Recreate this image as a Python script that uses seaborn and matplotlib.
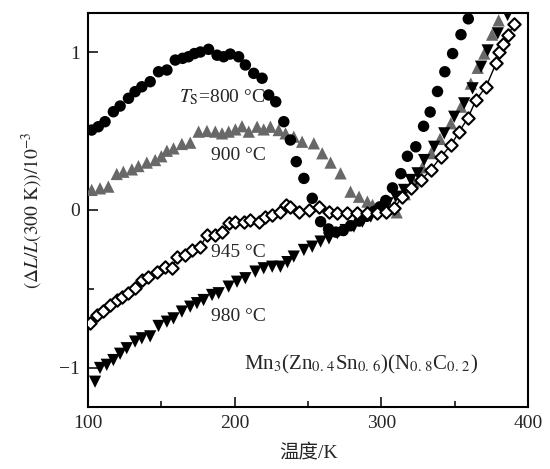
import numpy as np
import pandas as pd
import matplotlib
matplotlib.use("Agg")
import matplotlib.pyplot as plt
from matplotlib.ticker import MultipleLocator
import seaborn as sns

# ---------------- data ----------------
t800_x = [102.5, 107, 111.6, 117.3, 121.9, 127.6, 132.1, 136.7, 142.4, 148.1,
          153.8, 159.5, 164.5, 168.5, 172.5, 176.6, 182.2, 188, 192.5, 197,
          202.7, 207.3, 213, 218.7, 223.2, 228, 233.5, 238, 242, 247.2,
          252.9, 258.6, 264, 269, 274, 279, 285, 290, 295, 299,
          303, 307.6, 313.3, 317.8, 323.5, 328.8, 333.3, 338.3, 343.3, 348.6,
          354.3, 359.3]
t800_y = [0.506, 0.527, 0.559, 0.622, 0.658, 0.707, 0.749, 0.780, 0.812, 0.875,
          0.886, 0.949, 0.96, 0.97, 0.99, 1.0, 1.017, 0.98, 0.97, 0.987,
          0.97, 0.918, 0.865, 0.834, 0.728, 0.685, 0.559, 0.443, 0.306, 0.20,
          0.074, -0.074, -0.12, -0.14, -0.13, -0.10, -0.07, -0.04, -0.01, 0.02,
          0.06, 0.14, 0.23, 0.34, 0.40, 0.53, 0.62, 0.75, 0.875, 0.99,
          1.11, 1.21]

t900_x = [102.5, 108.2, 113.9, 119.6, 124.1, 129.9, 134.4, 140.1, 145.8, 150,
          153.8, 158.3, 164, 169.7, 175.4, 181.1, 186.8, 191.4, 195.9, 200.5,
          205, 209.6, 215.3, 219.8, 224.4, 230, 234.7, 240.3, 246, 254,
          259.7, 265.4, 272.2, 279, 284.8, 290.5, 294, 301.8, 306, 310.5,
          316, 322, 328, 334, 340, 347.4, 354.3, 361, 365.7, 370.2,
          375.5, 380]
t900_y = [0.127, 0.137, 0.148, 0.228, 0.242, 0.257, 0.278, 0.30, 0.316, 0.34,
          0.375, 0.39, 0.418, 0.426, 0.496, 0.50, 0.496, 0.485, 0.496, 0.51,
          0.53, 0.496, 0.527, 0.51, 0.527, 0.506, 0.485, 0.464, 0.432, 0.422,
          0.359, 0.30, 0.232, 0.116, 0.084, 0.053, 0.032, 0.03, 0.01, -0.015,
          0.10, 0.18, 0.27, 0.36, 0.45, 0.549, 0.654, 0.80, 0.90, 0.99,
          1.11, 1.20]

t945_x = [101.4, 105.9, 110, 115, 119.6, 123.5, 127.6, 132.1, 136.7, 141.2,
          146.9, 152.6, 157.2, 160.6, 166.3, 170.9, 176.6, 181.1, 186.8, 191.4,
          195.9, 200.5, 206.2, 210.7, 216.4, 221, 225.6, 231.2, 234.7, 238,
          243.8, 250.6, 257.4, 264.3, 270, 276.8, 283.7, 290.5, 297.3, 303,
          308.7, 314.4, 320.1, 327, 333.8, 340.6, 347.4, 353.1, 358.9, 364.5,
          371.4, 378.2, 380.5, 382.8, 386.5, 390.7]
t945_y = [-0.717, -0.665, -0.64, -0.60, -0.57, -0.55, -0.527, -0.496, -0.443, -0.422,
          -0.39, -0.359, -0.369, -0.295, -0.285, -0.253, -0.232, -0.158, -0.158, -0.137,
          -0.084, -0.074, -0.074, -0.063, -0.074, -0.042, -0.032, -0.011, 0.032, 0.021,
          -0.011, 0.0, 0.021, -0.011, -0.021, -0.017, -0.017, -0.021, -0.021, -0.011,
          0.011, 0.084, 0.137, 0.19, 0.253, 0.337, 0.41, 0.496, 0.58, 0.696,
          0.78, 0.928, 1.0, 1.05, 1.107, 1.18]

t980_x = [104.8, 108.2, 112.8, 117.3, 121.9, 126.4, 132.1, 136.7, 142.4, 148.1,
          153.8, 158.3, 164, 169.7, 174.3, 178.8, 184.6, 189.1, 195.9, 201.6,
          207.3, 214.1, 219.8, 225.6, 231.2, 236, 240.3, 247.2, 252.9, 258.6,
          264.3, 270, 275.7, 281.3, 287.1, 292.8, 298.4, 304.2, 309.8, 315.5,
          320, 324.7, 329.2, 336, 342.9, 349.7, 356.5, 362.2, 368, 372.5,
          379.4, 386.1]
t980_y = [-1.087, -1.0, -0.98, -0.95, -0.91, -0.875, -0.833, -0.812, -0.80, -0.734,
          -0.707, -0.686, -0.643, -0.612, -0.59, -0.57, -0.538, -0.527, -0.485, -0.454,
          -0.432, -0.39, -0.369, -0.359, -0.359, -0.33, -0.295, -0.253, -0.232, -0.2,
          -0.18, -0.147, -0.127, -0.105, -0.074, -0.042, -0.011, 0.042, 0.084, 0.127,
          0.19, 0.232, 0.316, 0.40, 0.485, 0.59, 0.675, 0.77, 0.907, 1.01,
          1.118, 1.234]

x_ticks = [100, 200, 300, 400]
y_ticks = [-1, 0, 1]
labels = ["$T_\\mathrm{S}$=800 °C", "900 °C", "945 °C", "980 °C"]
formula = r"Mn$_3$(Zn$_{0.\,4}$Sn$_{0.\,6}$)(N$_{0.\,8}$C$_{0.\,2}$)"
x_label = "温度/K"
y_label = r"$(\Delta L/L(300\ \mathrm{K}))/10^{-3}$"

# ---------------- style ----------------
sns.set_style("ticks")
plt.rcParams["font.family"] = ["Liberation Serif", "Noto Sans CJK SC", "DejaVu Sans"]
plt.rcParams["mathtext.fontset"] = "stix"
plt.rcParams["axes.unicode_minus"] = True

fig = plt.figure(figsize=(5.5, 4.69), dpi=100)
ax = fig.add_axes([0.16, 0.1322, 0.8, 0.8401])

df800 = pd.DataFrame({"T": t800_x, "v": t800_y})
df900 = pd.DataFrame({"T": t900_x, "v": t900_y})
df945 = pd.DataFrame({"T": t945_x, "v": t945_y})
df980 = pd.DataFrame({"T": t980_x, "v": t980_y})

sns.scatterplot(data=df900, x="T", y="v", marker="^", s=78, color="#686868",
                edgecolor="none", ax=ax, legend=False, zorder=3)
sns.scatterplot(data=df980, x="T", y="v", marker="v", s=78, color="black",
                edgecolor="none", ax=ax, legend=False, zorder=4)
sns.scatterplot(data=df800, x="T", y="v", marker="o", s=68, color="black",
                edgecolor="none", ax=ax, legend=False, zorder=5)
sns.lineplot(data=df945, x="T", y="v", sort=False, color="black", lw=1.0,
             ax=ax, legend=False, zorder=6)
sns.scatterplot(data=df945, x="T", y="v", marker="D", s=40, facecolor="white",
                edgecolor="black", linewidth=1.5, ax=ax, legend=False, zorder=7)

ax.set_xlim(100, 400)
ax.set_ylim(-1.247, 1.247)
ax.set_xticks(x_ticks)
ax.set_yticks(y_ticks)
ax.xaxis.set_minor_locator(MultipleLocator(50))
ax.yaxis.set_minor_locator(MultipleLocator(0.5))
ax.tick_params(which="major", direction="in", length=7, width=1.3,
               labelsize=14, top=False, right=False, pad=6)
ax.tick_params(which="minor", direction="in", length=4.3, width=1.3,
               top=False, right=False)
for sp in ax.spines.values():
    sp.set_linewidth(1.5)
    sp.set_color("black")

ax.set_xlabel(x_label, fontsize=14, labelpad=8)
ax.set_ylabel(y_label, fontsize=14, labelpad=10)

ax.text(191.6, 0.715, labels[0], fontsize=14, ha="center", va="center", zorder=8)
ax.text(202.5, 0.348, labels[1], fontsize=14, ha="center", va="center", zorder=8)
ax.text(202.5, -0.27, labels[2], fontsize=14, ha="center", va="center", zorder=8)
ax.text(202.5, -0.677, labels[3], fontsize=14, ha="center", va="center", zorder=8)
ax.text(285.9, -0.98, formula, fontsize=15, ha="center", va="center", zorder=8)

fig.savefig("out.png", dpi=100)
